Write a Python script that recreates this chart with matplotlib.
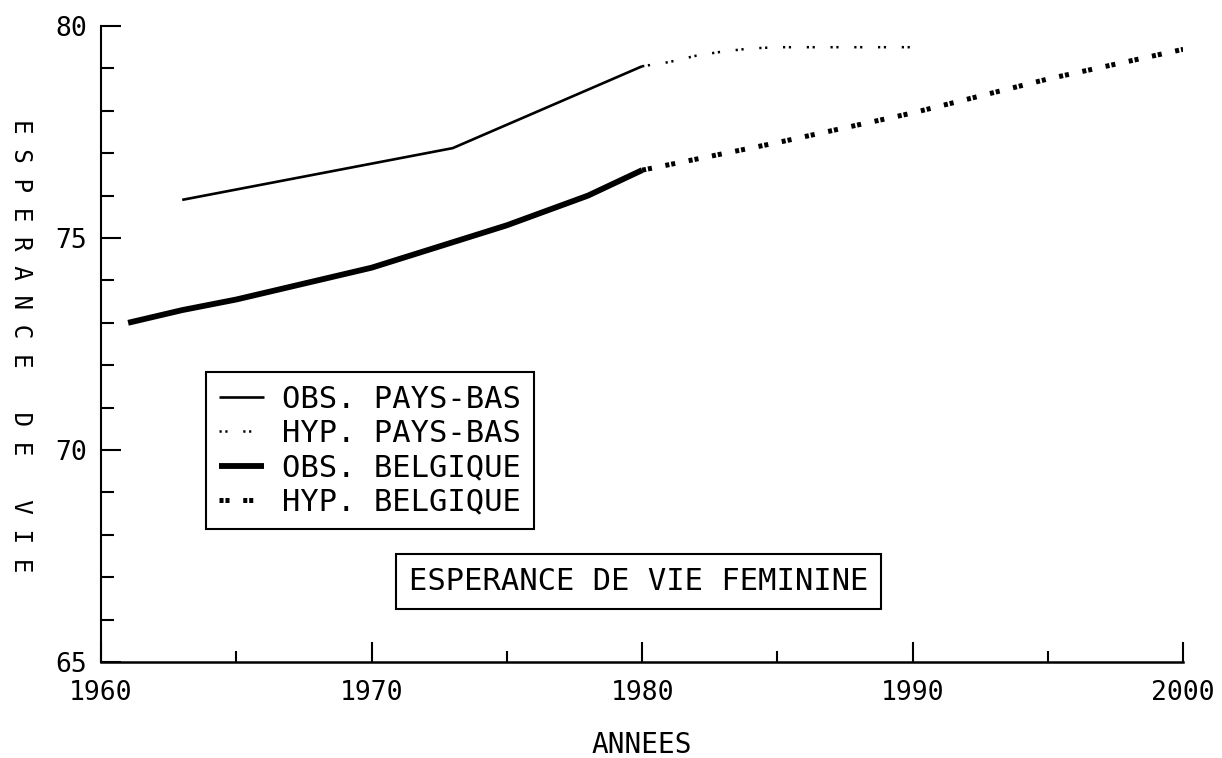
import matplotlib
matplotlib.use('Agg')
from matplotlib import pyplot as plt
from matplotlib.ticker import MultipleLocator

# data
pb_obs_years = [1963, 1973, 1980]
pb_obs_values = [75.9, 77.12, 79.05]

pb_hyp_years = [1980, 1981, 1982, 1983, 1984, 1985, 1990]
pb_hyp_values = [79.05, 79.15, 79.3, 79.4, 79.47, 79.5, 79.5]

be_obs_years = [1961, 1963, 1965, 1968, 1970, 1972, 1975, 1978, 1980]
be_obs_values = [73.0, 73.3, 73.55, 74.0, 74.3, 74.7, 75.3, 76.0, 76.6]

be_hyp_years = [1980, 1985, 1990, 1995, 2000]
be_hyp_values = [76.6, 77.25, 77.95, 78.75, 79.45]

labels = ['OBS. PAYS-BAS', 'HYP. PAYS-BAS', 'OBS. BELGIQUE', 'HYP. BELGIQUE']
x_ticks = [1960, 1970, 1980, 1990, 2000]
y_ticks = [65, 70, 75, 80]

plt.rcParams['font.family'] = 'DejaVu Sans Mono'
plt.rcParams['lines.scale_dashes'] = False

fig = plt.figure(figsize=(12.22, 7.58), dpi=100)
ax = fig.add_axes([0.0827, 0.1266, 0.8855, 0.8391])

ax.plot(pb_obs_years, pb_obs_values, color='k', linewidth=1.9,
        solid_capstyle='butt', label=labels[0])
ax.plot(pb_hyp_years, pb_hyp_values, color='k', linewidth=1.8,
        dashes=(1.6, 2.6, 1.6, 11.3), dash_capstyle='butt', label=labels[1])
ax.plot(be_obs_years, be_obs_values, color='k', linewidth=4.2,
        solid_capstyle='butt', label=labels[2])
ax.plot(be_hyp_years, be_hyp_values, color='k', linewidth=3.6,
        dashes=(2.9, 1.4, 2.9, 9.9), dash_capstyle='butt', label=labels[3])

ax.set_xlim(1960, 2000)
ax.set_ylim(65, 80)
ax.set_xticks(x_ticks)
ax.set_yticks(y_ticks)
ax.xaxis.set_minor_locator(MultipleLocator(5))
ax.yaxis.set_minor_locator(MultipleLocator(1))

ax.spines['top'].set_visible(False)
ax.spines['right'].set_visible(False)
ax.spines['left'].set_linewidth(1.5)
ax.spines['bottom'].set_linewidth(1.8)

ax.tick_params(axis='both', which='both', direction='in', width=1.5, labelsize=19)
ax.tick_params(axis='x', which='major', length=14.5, pad=13)
ax.tick_params(axis='x', which='minor', length=8)
ax.tick_params(axis='y', which='major', length=14.5, pad=10)
ax.tick_params(axis='y', which='minor', length=9.5)

ax.set_xlabel('ANNEES', fontsize=20, labelpad=18)
ax.set_ylabel(' '.join('ESPERANCE DE VIE'), fontsize=17.5, rotation=-90,
              va='center', ha='center')
ax.yaxis.set_label_coords(-0.074, 0.497)

leg = ax.legend(loc='upper left', bbox_to_anchor=(0.097, 0.456),
                fontsize=22, handlelength=1.47, handletextpad=0.59,
                borderpad=0.42, labelspacing=0.17, borderaxespad=0,
                fancybox=False, framealpha=1, edgecolor='k')
leg.get_frame().set_linewidth(1.5)

ax.text(0.4965, 0.127, 'ESPERANCE DE VIE FEMININE', transform=ax.transAxes,
        fontsize=22, ha='center', va='center',
        bbox=dict(boxstyle='square,pad=0.42', fc='white', ec='k', lw=1.5))

fig.savefig('out.png', dpi=100)
